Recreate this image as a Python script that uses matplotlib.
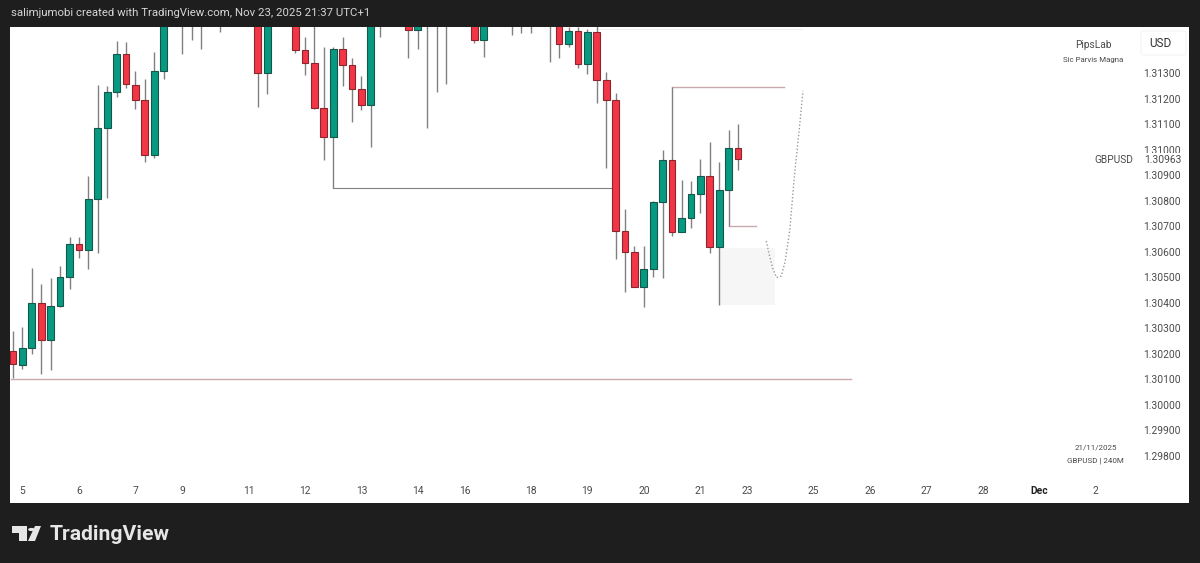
import matplotlib
matplotlib.use('Agg')
import matplotlib.pyplot as plt
import numpy as np
from matplotlib.patches import Polygon, Circle, Rectangle, FancyBboxPatch

plt.rcParams['font.family'] = ['Roboto', 'DejaVu Sans']

W, H = 1200, 563

# GBPUSD 4h candles, in 1e-5 price units. Values above the visible window are estimates
opens = [130210, 130158, 130222, 130398, 130256, 130388, 130500, 130632, 130607, 130805,
         131084, 131225, 131374, 131253, 131193, 130979, 131309, 131540, 131520, 131520,
         131520, 131540, 131520, 131540, 131540, 131540, 131560, 131299, 131540, 131540,
         131540, 131389, 131339, 131164, 131051, 131393, 131331, 131239, 131174, 131520,
         131540, 131540, 131530, 131469, 131520, 131520, 131520, 131540, 131540, 131540,
         131429, 131540, 131540, 131520, 131520, 131520, 131540, 131520, 131540, 131413,
         131463, 131334, 131462, 131273, 131193, 130682, 130598, 130463, 130531, 130794,
         130959, 130679, 130732, 130825, 130896, 130617, 130843, 131005]
closes = [130159, 130222, 130398, 130256, 130388, 130500, 130632, 130607, 130805, 131084,
          131225, 131374, 131256, 131193, 130979, 131308, 131520, 131590, 131560, 131560,
          131560, 131590, 131560, 131590, 131590, 131590, 131299, 131560, 131590, 131590,
          131389, 131339, 131164, 131051, 131393, 131331, 131239, 131174, 131540, 131560,
          131590, 131590, 131469, 131530, 131560, 131560, 131560, 131590, 131590, 131429,
          131540, 131590, 131590, 131560, 131560, 131560, 131590, 131560, 131413, 131463,
          131334, 131462, 131273, 131193, 130682, 130598, 130463, 130531, 130794, 130959,
          130679, 130732, 130825, 130896, 130617, 130843, 131005, 130963]
highs = [130291, 130304, 130535, 130473, 130496, 130545, 130657, 130657, 130897, 131253,
         131250, 131427, 131423, 131308, 131277, 131381, 131560, 131620, 131600, 131600,
         131600, 131620, 131600, 131620, 131620, 131620, 131600, 131600, 131620, 131620,
         131580, 131442, 131540, 131401, 131401, 131442, 131358, 131290, 131570, 131600,
         131620, 131620, 131570, 131570, 131600, 131600, 131600, 131620, 131620, 131580,
         131580, 131620, 131620, 131600, 131600, 131600, 131620, 131600, 131580, 131480,
         131480, 131472, 131485, 131303, 131223, 130767, 130624, 130623, 130800, 130999,
         131244, 130881, 130877, 130964, 131031, 130951, 131077, 131099]
lows = [130106, 130141, 130198, 130122, 130137, 130384, 130454, 130577, 130534, 130596,
        130812, 131205, 131242, 131158, 130950, 130966, 131278, 131500, 131373, 131428,
        131395, 131500, 131460, 131500, 131500, 131500, 131168, 131217, 131500, 131500,
        131377, 131291, 131158, 130961, 130850, 131249, 131109, 131155, 131009, 131440,
        131500, 131500, 131360, 131394, 131086, 131227, 131256, 131500, 131500, 131419,
        131362, 131500, 131500, 131449, 131458, 131456, 131500, 131342, 131358, 131401,
        131321, 131295, 131184, 130929, 130572, 130441, 130461, 130385, 130502, 130496,
        130663, 130679, 130694, 130753, 130596, 130391, 130701, 130919]

day_pos = [1, 7, 13, 18, 25, 31, 37, 43, 48, 55, 61, 67, 73, 78, 85, 91, 97, 103, 109, 115]
day_labels = ['5', '6', '7', '9', '11', '12', '13', '14', '16', '18', '19', '20', '21', '23',
              '25', '26', '27', '28', 'Dec', '2']
price_ticks = [1.298, 1.299, 1.300, 1.301, 1.302, 1.303, 1.304, 1.305, 1.306, 1.307, 1.308,
               1.309, 1.310, 1.311, 1.312, 1.313]

# hand-drawn path of the expected move
path_x = [80.0, 80.3, 80.7, 81.1, 81.6, 82.0, 82.5, 83.0, 83.5, 83.9]
path_y = [1.30642, 1.30591, 1.30533, 1.30499, 1.30505, 1.30560, 1.30685, 1.30901, 1.31077, 1.31230]

BG = '#1e1e1e'
UP, UP_EDGE = '#089981', '#15574b'
DOWN, DOWN_EDGE = '#f23645', '#8c2530'
WICK = '#808080'
PINK = '#c9a9ae'
TEXT = '#4a4a4a'

o = np.array(opens) / 1e5
c = np.array(closes) / 1e5
hi = np.array(highs) / 1e5
lo = np.array(lows) / 1e5
x = np.arange(len(o))

fig = plt.figure(figsize=(W / 100, H / 100), dpi=100, facecolor=BG)
ax = fig.add_axes([10 / W, 1 - 503 / H, 1179 / W, 476 / H], facecolor='white')
ax.set_xlim(-0.32, 124.9)
ax.set_ylim(1.29616, 1.3148)
for s in ax.spines.values():
    s.set_visible(False)

# drawings
ax.add_patch(Rectangle((75.1, 1.30391), 5.85, 0.00225, fc='#f6f6f6', ec='none', zorder=1))
ax.plot([-0.2, 89], [1.30102, 1.30102], color=PINK, lw=1.0, zorder=2)
ax.plot([34, 63.6], [1.30850, 1.30850], color='#808080', lw=0.8, zorder=2)
ax.plot([70, 81.9], [1.31244, 1.31244], color=PINK, lw=1.0, zorder=2)
ax.plot([76, 78.9], [1.30701, 1.30701], color=PINK, lw=1.0, zorder=2)
ax.plot([62, 83.8], [1.31472, 1.31472], color='#f0f0f0', lw=0.8, zorder=2)
ax.plot(path_x, path_y, color='#9a9a9a', lw=1, ls=(0, (1, 1.5)), zorder=2)

# candles
ax.vlines(x, lo, hi, color=WICK, lw=1.0, zorder=3)
up = c >= o
ax.bar(x[up], (c - o)[up], bottom=o[up], width=0.72, color=UP, edgecolor=UP_EDGE, linewidth=0.8, zorder=4)
ax.bar(x[~up], (o - c)[~up], bottom=c[~up], width=0.72, color=DOWN, edgecolor=DOWN_EDGE, linewidth=0.8, zorder=4)

# axes drawn inside the pane
ax.yaxis.tick_right()
ax.set_yticks(price_ticks)
ax.set_yticklabels([f'{p:.5f}' for p in price_ticks], ha='right', fontsize=7.4, color=TEXT)
ax.tick_params(axis='y', length=0, pad=-5.8)
ax.set_xticks(day_pos)
ax.set_xticklabels(day_labels, fontsize=7.4, color=TEXT)
ax.tick_params(axis='x', length=0, pad=-12.5)
for lab in ax.get_xticklabels():
    if lab.get_text() == 'Dec':
        lab.set_fontweight('bold')
        lab.set_color('#222222')


def fx(px):
    return px / W


def fy(py):
    return 1 - py / H


# last price tag covers the tick label behind it
fig.add_artist(Rectangle((fx(1141), fy(166)), 42 / W, 13 / H, fc='white', ec='none', zorder=5))
fig.text(fx(1181), fy(160), '1.30963', ha='right', va='center', fontsize=7.4, color=TEXT, zorder=6)
fig.text(fx(1133), fy(160), 'GBPUSD', ha='right', va='center', fontsize=7.3, color=TEXT, zorder=6)

fig.text(fx(1093), fy(45), 'PipsLab', ha='center', va='center', fontsize=7.3, color=TEXT)
fig.text(fx(1093), fy(60), 'Sic Parvis Magna', ha='center', va='center', fontsize=5.7, color=TEXT)
fig.text(fx(1096), fy(448), '21/11/2025', ha='center', va='center', fontsize=5.8, color=TEXT)
fig.text(fx(1095), fy(461), 'GBPUSD | 240M', ha='center', va='center', fontsize=5.8, color=TEXT)

# USD button
fig.add_artist(FancyBboxPatch((fx(1141), fy(55)), 45 / W, 24 / H,
                              boxstyle='round,pad=0,rounding_size=0.003',
                              fc='white', ec='#f4f4f4', lw=0.8, zorder=5))
fig.text(fx(1160), fy(43.5), 'USD', ha='center', va='center', fontsize=8.5, color='#333333', zorder=6)

# header
fig.text(fx(11), fy(13), 'salimjumobi created with TradingView.com, Nov 23, 2025 21:37 UTC+1',
         ha='left', va='center', fontsize=8.2, color='#d6d6d6')

# TradingView logo
logo = '#e6e6e6'
fig.add_artist(Polygon([(fx(12), fy(526)), (fx(27), fy(526)), (fx(27), fy(541)), (fx(19), fy(541)),
                        (fx(19), fy(533)), (fx(12), fy(533))], fc=logo, ec='none'))
fig.add_artist(Polygon([(fx(35), fy(526)), (fx(41), fy(526)), (fx(35), fy(541)), (fx(28), fy(541))],
                       fc=logo, ec='none'))
fig.add_artist(Circle((fx(31.5), fy(529.5)), 3.4 / W, fc=logo, ec='none'))
fig.text(fx(50), fy(534), 'TradingView', ha='left', va='center', fontsize=15.2, fontweight='bold',
         color=logo)

fig.savefig('out.png', dpi=100, facecolor=fig.get_facecolor())
